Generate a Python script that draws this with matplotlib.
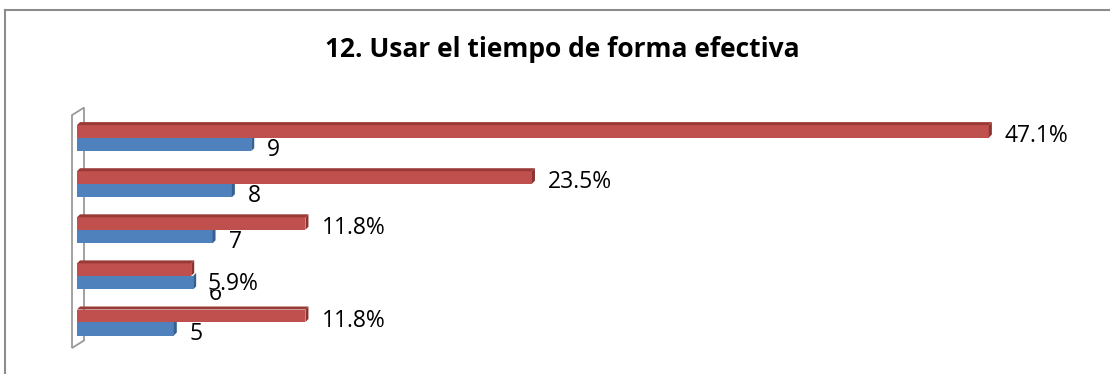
import matplotlib
matplotlib.use("Agg")
import matplotlib.pyplot as plt
from matplotlib.patches import Polygon, Rectangle
from matplotlib.lines import Line2D
from matplotlib.transforms import IdentityTransform

# ---- data ----
categories = [5, 6, 7, 8, 9]
count_values = [5, 6, 7, 8, 9]
count_labels = ["5", "6", "7", "8", "9"]
percent_values = [11.8, 5.9, 11.8, 23.5, 47.1]
percent_labels = ["11.8%", "5.9%", "11.8%", "23.5%", "47.1%"]
title_text = "12. Usar el tiempo de forma efectiva"

# ---- styling ----
FONT = ["Open Sans", "DejaVu Sans"]
RED, RED_TOP, RED_SIDE = "#C0504D", "#9A3A37", "#8A3330"
BLUE, BLUE_SIDE = "#4F81BD", "#36608F"
WALL = "#9A9A9A"
FRAME = "#8C8C8C"

W, H, DPI = 1110, 374, 100
PX_PER_UNIT = 19.36      # horizontal pixels per value unit
X0 = 77                  # pixel column of value 0
PITCH = 46.1             # vertical pixels between category slots
Y_BASE = 322             # pixel row (from top) of the first slot's baseline

fig = plt.figure(figsize=(W / DPI, H / DPI), dpi=DPI)
ax = fig.add_axes([0, 0, 1, 1])
ax.set_xlim(-X0 / PX_PER_UNIT, (W - X0) / PX_PER_UNIT)
ax.set_ylim((Y_BASE - H) / PITCH, Y_BASE / PITCH)
ax.axis("off")

ux = 1 / PX_PER_UNIT   # one pixel in x data units
uy = 1 / PITCH         # one pixel in y data units

red_h = 12.5 * uy
blue_h = 13.5 * uy
dx, dy = 3 * ux, 3 * uy
pos = list(range(len(categories)))

# ---- side wall of the 3-D plot area ----
wall_bottom = pos[0] - blue_h - 12.5 * uy
wall_top = pos[-1] + red_h + dy + 7 * uy
wx0, wx1 = -5 * ux, 7 * ux
wdy = 7.5 * uy
wall = Polygon([(wx0, wall_bottom), (wx0, wall_top), (wx1, wall_top + wdy),
                (wx1, wall_bottom + wdy)], closed=True, facecolor="white",
               edgecolor=WALL, lw=1.3, zorder=1)
ax.add_patch(wall)

# ---- bars ----
ax.barh([p - blue_h for p in pos], count_values, height=blue_h, left=0,
        align="edge", color=BLUE, edgecolor="none", zorder=3)
ax.barh(pos, percent_values, height=red_h, left=0, align="edge",
        color=RED, edgecolor="none", zorder=5)

for p, v in zip(pos, count_values):
    y0 = p - blue_h
    ax.add_patch(Polygon([(v, y0), (v + dx, y0 + dy), (v + dx, p + dy), (v, p)],
                         closed=True, facecolor=BLUE_SIDE, edgecolor="none", zorder=3))

for p, v in zip(pos, percent_values):
    top = p + red_h
    ax.add_patch(Polygon([(0, top), (dx, top + dy), (v + dx, top + dy), (v, top)],
                         closed=True, facecolor=RED_TOP, edgecolor="none", zorder=5))
    ax.add_patch(Polygon([(v, p), (v + dx, p + dy), (v + dx, top + dy), (v, top)],
                         closed=True, facecolor=RED_SIDE, edgecolor="none", zorder=5))

# ---- data labels ----
LABEL_SIZE = 16.5
red_nudge = {1: -9.5}
blue_nudge = {1: -6}
for k, (p, v, t) in enumerate(zip(pos, count_values, count_labels)):
    ax.annotate(t, (v, p), xytext=(16, -18 + blue_nudge.get(k, 0)),
                textcoords="offset pixels", ha="left", va="baseline",
                fontsize=LABEL_SIZE, family=FONT, color="black", zorder=6)

renderer = fig.canvas.get_renderer()
for k, (p, v, t) in enumerate(zip(pos, percent_values, percent_labels)):
    off_y = -4.7 + red_nudge.get(k, 0)
    txt = ax.annotate(t, (v, p), xytext=(16, off_y),
                      textcoords="offset pixels", ha="left", va="baseline",
                      fontsize=LABEL_SIZE, family=FONT, color="black", zorder=7)
    # white backing from the baseline up, so the percentage sits on top
    bb = txt.get_window_extent(renderer)
    base_y = ax.transData.transform((v, p))[1] + off_y
    ax.add_patch(Rectangle((bb.x0 - 1, base_y), bb.width + 2, bb.y1 - base_y,
                           transform=IdentityTransform(), facecolor="white",
                           edgecolor="none", zorder=6.5, clip_on=False))

# ---- title ----
fig.text(562 / W, 1 - 57.3 / H, title_text, ha="center", va="baseline",
         fontsize=19, fontweight="bold", family=FONT, color="black")

# ---- chart frame (top and left edges) ----
fig.add_artist(Line2D([4.5 / W, 1], [1 - 10 / H, 1 - 10 / H], color=FRAME, lw=1.5))
fig.add_artist(Line2D([4.5 / W, 4.5 / W], [0, 1 - 10 / H], color=FRAME, lw=1.5))

fig.savefig("out.png", dpi=DPI, facecolor="white")
